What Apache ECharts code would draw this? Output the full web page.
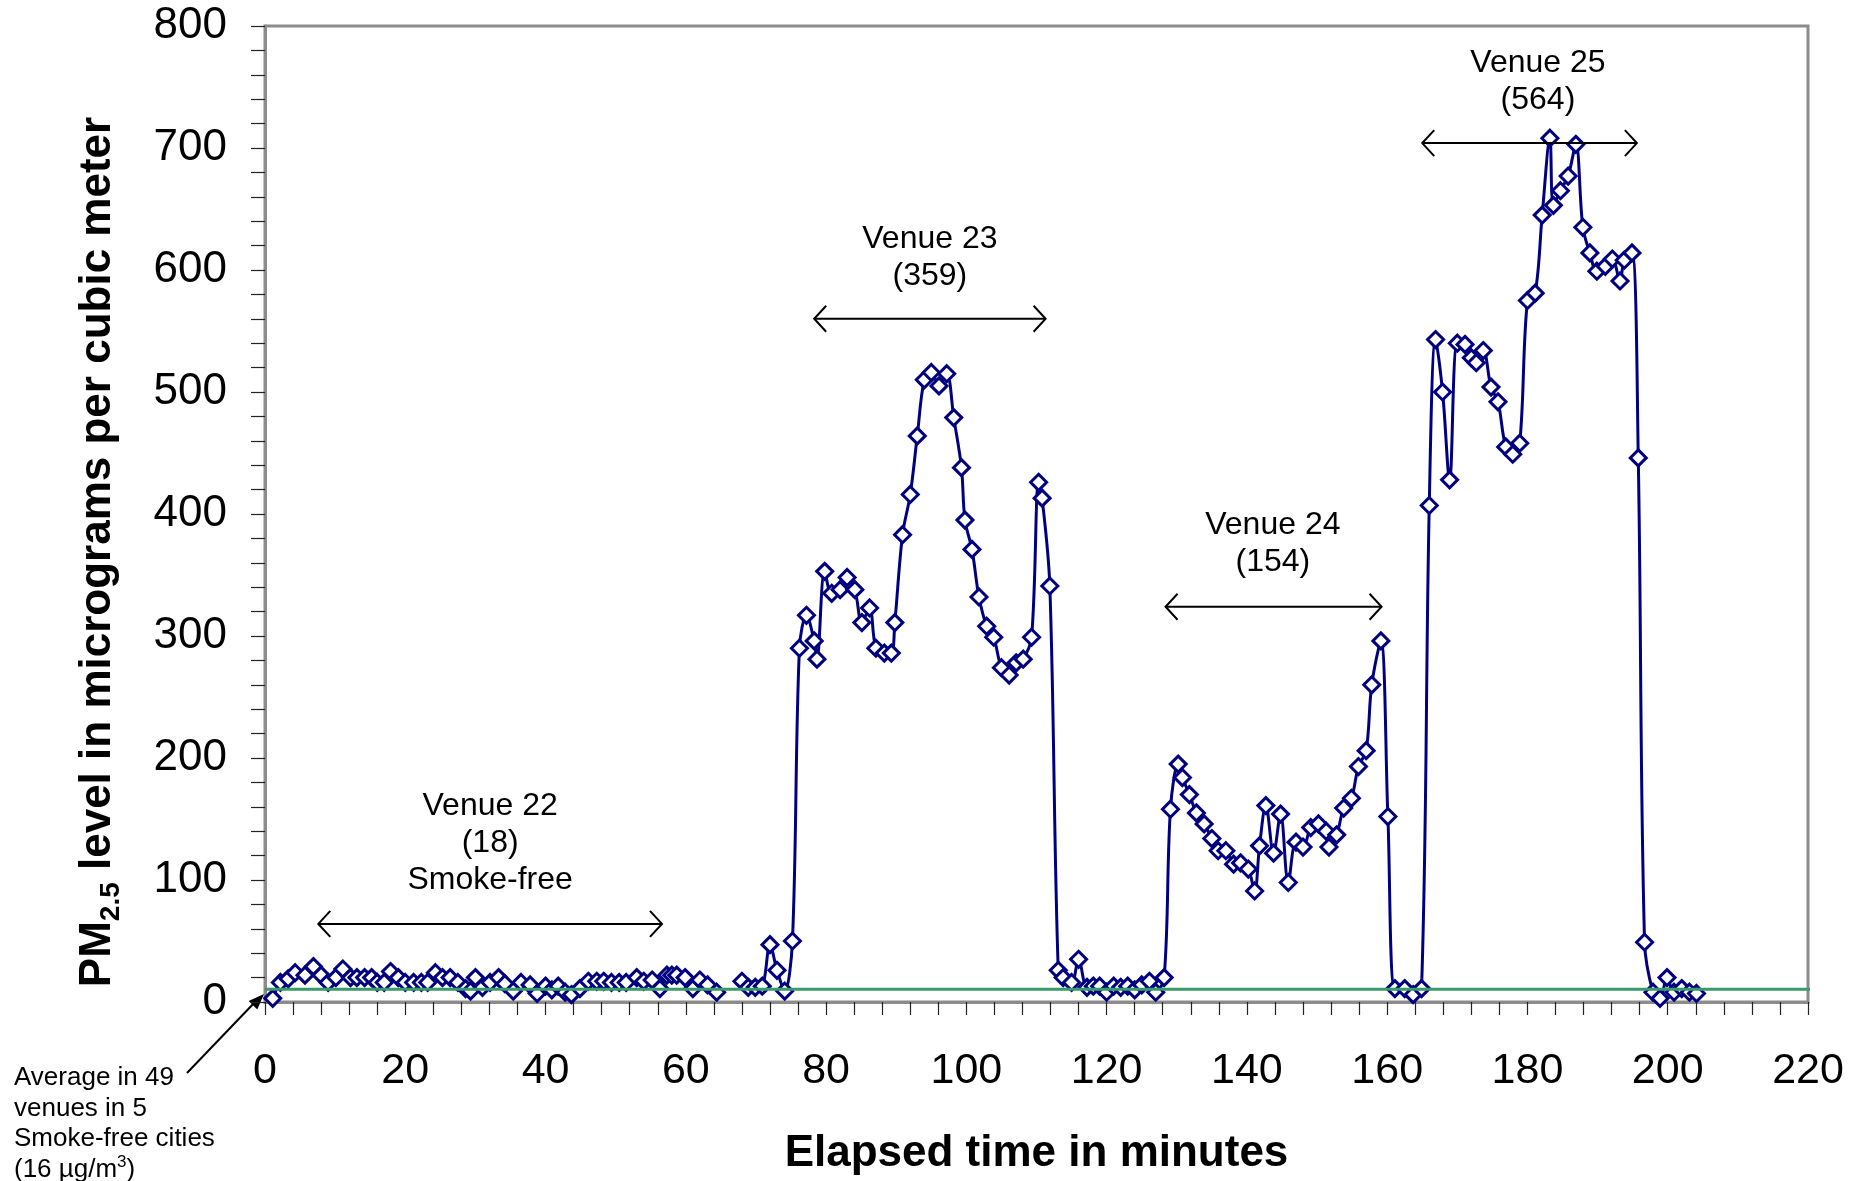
<!DOCTYPE html>
<html>
<head>
<meta charset="utf-8">
<script src="https://cdn.jsdelivr.net/npm/echarts@6/dist/echarts.min.js"></script>
<style>
html,body{margin:0;padding:0;background:#fff;}
#chart{width:1869px;height:1181px;}
</style>
</head>
<body>
<div id="chart"></div>
<script>
// ---- Data (elapsed minutes, PM2.5 µg/m3) ----
const venue22 = [[1.1,3],[2.2,16],[3.3,19],[4.3,24],[5.7,22],[6.9,29],[8.0,22],[9.0,16],[10.1,20],[11.1,27],[12.2,20],[13.1,20],[14.2,20],[15.2,20],[16.0,16],[17.0,16],[17.9,25],[19.0,20],[20.0,16],[21.2,16],[22.3,16],[23.2,16],[24.3,24],[25.3,20],[26.4,20],[27.5,16],[28.6,11],[29.3,9],[30.0,20],[31.0,12],[32.1,16],[33.3,20],[34.2,15],[35.4,9],[36.5,16],[37.8,14],[38.8,7],[40.0,13],[40.9,10],[41.8,13],[42.8,8],[43.7,6],[44.9,11],[46.1,17],[47.3,17],[48.3,17],[49.4,16],[50.5,16],[51.5,16],[53.0,20],[54.0,17],[55.2,18],[56.3,11],[57.3,22],[58.0,22],[58.7,22],[59.9,20],[61.0,11],[62.0,18],[63.1,14],[64.4,8]];
const venue23 = [[68.0,17],[68.9,12],[69.9,12],[70.9,13],[72.0,47],[73.0,26],[74.1,9],[75.2,50],[76.2,290],[77.2,317],[78.3,296],[78.7,281],[79.8,353],[80.8,335],[82.0,338],[83.0,348],[84.1,338],[85.1,311],[86.2,323],[87.1,290],[88.3,286],[89.3,286],[89.8,311],[90.9,383],[92.0,416],[93.0,464],[94.0,510],[95.0,516],[96.1,505],[97.2,515],[98.2,479],[99.3,438],[99.8,395],[100.8,371],[101.8,332],[102.9,308],[103.9,299],[105.0,274],[106.1,268],[107.1,278],[108.1,281],[109.3,299],[110.3,426],[110.8,413],[111.9,341],[113.1,26],[113.8,20],[115.0,16],[116.0,35],[117.2,12],[118.1,13],[119.0,13],[120.0,8],[121.0,13],[122.0,12],[123.0,13],[124.0,10],[125.0,14],[126.1,17],[127.0,8],[128.2,20]];
const venue24 = [[129.1,158],[130.2,195],[130.8,184],[131.8,170],[132.8,155],[133.9,146],[135.0,134],[135.9,124],[137.0,124],[138.1,113],[139.1,114],[140.2,109],[141.1,91],[141.8,128],[142.7,161],[143.8,122],[144.8,154],[145.9,98],[147.0,131],[148.0,127],[149.1,143],[150.2,146],[151.3,140],[151.7,127],[152.8,137],[153.8,159],[154.9,167],[155.9,193],[157.0,206],[157.8,260],[159.1,296],[160.1,152],[161.1,11],[162.5,11],[163.7,6],[164.9,11]];
const venue25 = [[166.0,407],[166.9,543],[167.9,500],[168.9,428],[170.0,540],[171.1,539],[172.0,528],[172.7,524],[173.7,534],[174.8,504],[175.8,492],[176.9,455],[177.9,449],[178.9,458],[180.0,575],[181.1,581],[182.1,645],[183.2,708],[183.7,653],[184.7,665],[185.8,677],[186.9,703],[187.9,635],[188.9,614],[189.9,599],[191.1,603],[192.1,609],[193.2,591],[193.8,608],[194.9,614],[195.8,446],[196.7,49],[197.9,8],[198.9,3],[199.9,20],[200.9,8],[202.0,11],[203.1,8],[204.1,7]];
const gapMarker = [[66,'-']];          // break in recording between venue 22 and 23
const smokeFreeAverage = 10.5;          // green reference line level as drawn
const smokeFreeSpan = [0, 222];         // drawn slightly past the right frame, as in the source
const xRange = [0, 220];
const yRange = [0, 800];

// Venue annotations: [startMin, endMin, level]
const arrowSpans = [[7.6,56.6,64],[78.3,111.3,560],[128.4,159.2,324],[165.0,195.6,704]];
const venueLabels = ['Venue 22\n(18)\nSmoke-free','Venue 23\n(359)','Venue 24\n(154)','Venue 25\n(564)'];
const venueLabelX = [32.1, 94.8, 143.7, 181.5];
const venueLabelY = [130, 610.5, 375.5, 754.5];

const FONT = '"Liberation Sans", Arial, Helvetica, sans-serif';

const series = venue22.concat(gapMarker, venue23, venue24, venue25);
const labelData = venueLabels.map((t, i) => [venueLabelX[i], venueLabelY[i], t]);

const chart = echarts.init(document.getElementById('chart'), null, {renderer: 'canvas'});
chart.setOption({
  animation: false,
  backgroundColor: '#ffffff',
  textStyle: {fontFamily: FONT},
  grid: {left: 265, right: 61, top: 26, bottom: 176, show: true, borderColor: '#8c8c8c', borderWidth: 3, backgroundColor: 'transparent'},
  xAxis: {
    type: 'value', min: xRange[0], max: xRange[1], interval: 20,
    name: 'Elapsed time in minutes', nameLocation: 'middle', nameGap: 130,
    nameTextStyle: {fontFamily: FONT, fontSize: 44, fontWeight: 'bold', color: '#000'},
    axisLine: {show: true, onZero: false, lineStyle: {color: '#8c8c8c', width: 3}},
    axisTick: {show: true, inside: false, length: 13, lineStyle: {color: '#222', width: 1.2}},
    minorTick: {show: true, splitNumber: 5, length: 13, lineStyle: {color: '#222', width: 1.2}},
    axisLabel: {fontFamily: FONT, fontSize: 43, color: '#000', margin: 48},
    splitLine: {show: false}
  },
  yAxis: {
    type: 'value', min: yRange[0], max: yRange[1], interval: 100,
    name: '{m|PM}{s|2.5}{m| level in micrograms per cubic meter}',
    nameLocation: 'middle', nameRotate: 90, nameGap: 140,
    nameTextStyle: {
      fontFamily: FONT, color: '#000', padding: [0, 76, 0, 0],
      rich: {
        m: {fontFamily: FONT, fontSize: 44, fontWeight: 'bold', color: '#000', lineHeight: 54},
        s: {fontFamily: FONT, fontSize: 28, fontWeight: 'bold', color: '#000', lineHeight: 30, verticalAlign: 'bottom'}
      }
    },
    axisLine: {show: true, lineStyle: {color: '#8c8c8c', width: 3}},
    axisTick: {show: true, inside: false, length: 14, lineStyle: {color: '#222', width: 1.2}},
    minorTick: {show: true, splitNumber: 5, length: 14, lineStyle: {color: '#222', width: 1.2}},
    axisLabel: {fontFamily: FONT, fontSize: 44, color: '#000', margin: 38},
    splitLine: {show: false}
  },
  series: [
    {
      name: 'PM2.5', type: 'line', data: series, smooth: 0.35, connectNulls: false,
      symbol: 'diamond', symbolSize: 16, showAllSymbol: true,
      lineStyle: {color: '#000080', width: 3},
      itemStyle: {color: '#ffffff', borderColor: '#000080', borderWidth: 3},
      emphasis: {disabled: true}, z: 2
    },
    {
      name: 'Smoke-free average', type: 'line', clip: false,
      data: [[smokeFreeSpan[0], smokeFreeAverage], [smokeFreeSpan[1], smokeFreeAverage]],
      symbol: 'none', lineStyle: {color: '#3a9a6a', width: 3}, emphasis: {disabled: true}, z: 3, silent: true
    },
    {
      name: 'Venue spans', type: 'custom', clip: false, silent: true, z: 4,
      data: arrowSpans,
      renderItem: function (params, api) {
        const y = api.value(2);
        const a = api.coord([api.value(0), y]);
        const b = api.coord([api.value(1), y]);
        const st = {stroke: '#000', lineWidth: 2, fill: null};
        return {type: 'group', children: [
          {type: 'line', shape: {x1: a[0], y1: a[1], x2: b[0], y2: b[1]}, style: st},
          {type: 'polyline', shape: {points: [[a[0] + 12, a[1] - 13], [a[0], a[1]], [a[0] + 12, a[1] + 13]]}, style: st},
          {type: 'polyline', shape: {points: [[b[0] - 12, b[1] - 13], [b[0], b[1]], [b[0] - 12, b[1] + 13]]}, style: st}
        ]};
      }
    },
    {
      name: 'Venue labels', type: 'custom', clip: false, silent: true, z: 4,
      data: labelData,
      renderItem: function (params, api) {
        const p = api.coord([api.value(0), api.value(1)]);
        return {type: 'text', x: p[0], y: p[1], style: {
          text: labelData[params.dataIndex][2], fill: '#000',
          font: '32px ' + FONT, align: 'center', verticalAlign: 'middle', lineHeight: 37
        }};
      }
    }
  ],
  graphic: [
    {type: 'text', left: 14, top: 1065, silent: true, style: {
      text: '{t|Average in 49}\n{t|venues in 5}\n{t|Smoke-free cities}\n{t|(16 µg/m}{u|3}{t|)}',
      rich: {
        t: {fontFamily: FONT, fontSize: 26, color: '#000', lineHeight: 30.5},
        u: {fontFamily: FONT, fontSize: 17, color: '#000', lineHeight: 30.5, padding: [0, 0, 14, 0]}
      }
    }},
    {type: 'line', silent: true, shape: {x1: 187, y1: 1073, x2: 256, y2: 1001}, style: {stroke: '#000', lineWidth: 2}},
    {type: 'polygon', silent: true, shape: {points: [[264, 994], [257.3, 1009.4], [248.7, 1001]]}, style: {fill: '#000'}}
  ]
});
</script>
</body>
</html>
